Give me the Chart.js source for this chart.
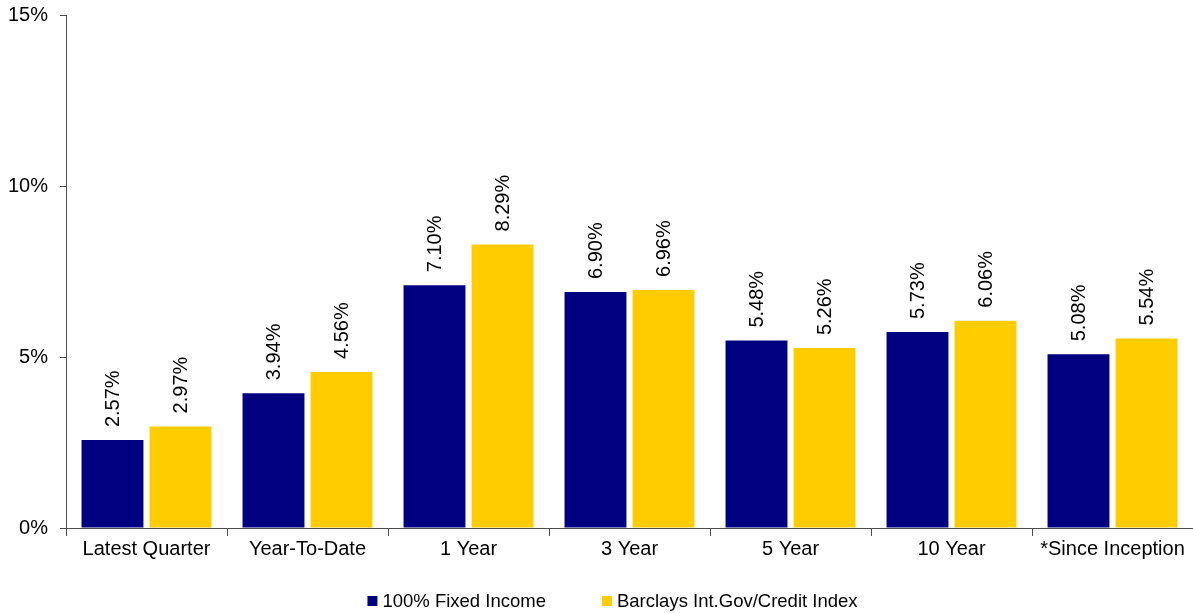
<!DOCTYPE html>
<html>
<head>
<meta charset="utf-8">
<script src="https://cdn.jsdelivr.net/npm/chart.js@4/dist/chart.umd.min.js"></script>
<style>
html,body{margin:0;padding:0;background:#fff;}
#wrap{width:1193px;height:613px;position:relative;}
</style>
</head>
<body>
<div id="wrap"><canvas id="c" width="1193" height="613"></canvas></div>
<script>
const categories = ["Latest Quarter", "Year-To-Date", "1 Year", "3 Year", "5 Year", "10 Year", "*Since Inception"];
const fixedIncome = [2.57, 3.94, 7.10, 6.90, 5.48, 5.73, 5.08];
const barclays = [2.97, 4.56, 8.29, 6.96, 5.26, 6.06, 5.54];
const seriesNames = ["100% Fixed Income", "Barclays Int.Gov/Credit Index"];
const yTicks = [0, 5, 10, 15];

const FONT = "'Liberation Sans', Arial, sans-serif";
const AXIS = "#4d4d4d";

const labelPlugin = {
  id: 'barLabels',
  afterDatasetsDraw(chart) {
    const ctx = chart.ctx;
    ctx.save();
    ctx.font = "20px " + FONT;
    ctx.fillStyle = "#000";
    ctx.textAlign = "left";
    ctx.textBaseline = "middle";
    chart.data.datasets.forEach((ds, di) => {
      const meta = chart.getDatasetMeta(di);
      meta.data.forEach((bar, i) => {
        ctx.save();
        ctx.translate(bar.x, bar.y - 13);
        ctx.rotate(-Math.PI / 2);
        ctx.fillText(ds.data[i].toFixed(2) + "%", 0, 1);
        ctx.restore();
      });
    });
    ctx.restore();
  }
};

const legendPlugin = {
  id: 'customLegend',
  afterDraw(chart) {
    const ctx = chart.ctx;
    ctx.save();
    ctx.font = "18.5px " + FONT;
    ctx.textBaseline = "middle";
    ctx.textAlign = "left";
    const box = 10, textGap = 5, itemGap = 56;
    const items = chart.data.datasets.map(ds => ({label: ds.label, color: ds.backgroundColor, w: ctx.measureText(ds.label).width}));
    let total = 0;
    items.forEach((it, i) => { total += box + textGap + it.w + (i ? itemGap : 0); });
    let x = chart.width / 2 + 16 - total / 2;
    const y = 601;
    items.forEach((it) => {
      ctx.fillStyle = it.color;
      ctx.fillRect(x, y - box / 2, box, box);
      ctx.fillStyle = "#000";
      ctx.fillText(it.label, x + box + textGap, y + 1);
      x += box + textGap + it.w + itemGap;
    });
    ctx.restore();
  }
};

new Chart(document.getElementById('c'), {
  type: 'bar',
  data: {
    labels: categories,
    datasets: [
      {label: seriesNames[0], data: fixedIncome, backgroundColor: "#000080", borderWidth: 0, categoryPercentage: 0.845, barPercentage: 0.91},
      {label: seriesNames[1], data: barclays, backgroundColor: "#FFCC00", borderWidth: 0, categoryPercentage: 0.845, barPercentage: 0.91}
    ]
  },
  options: {
    responsive: false,
    animation: false,
    devicePixelRatio: 1,
    layout: {padding: {top: 15, right: 0, bottom: 0, left: 0}},
    plugins: {legend: {display: false}, tooltip: {enabled: false}},
    scales: {
      x: {
        offset: true,
        grid: {display: true, drawOnChartArea: false, drawTicks: true, tickLength: 8, color: AXIS, offset: true},
        border: {display: true, color: AXIS, width: 1},
        ticks: {font: {family: FONT, size: 20}, color: "#000", padding: 1, maxRotation: 0, autoSkip: false},
        afterFit(scale) { scale.height = 85; scale.paddingLeft = 0; scale.paddingRight = 0; }
      },
      y: {
        min: 0, max: 15,
        afterBuildTicks(scale) { scale.ticks = yTicks.map(v => ({value: v})); },
        grid: {display: true, drawOnChartArea: false, drawTicks: true, tickLength: 6, color: AXIS},
        border: {display: true, color: AXIS, width: 1},
        ticks: {font: {family: FONT, size: 20}, color: "#000", padding: 12, callback: v => v + "%"},
        afterFit(scale) { scale.width = 66; scale.paddingTop = 0; scale.paddingBottom = 0; }
      }
    }
  },
  plugins: [labelPlugin, legendPlugin]
});
</script>
</body>
</html>
